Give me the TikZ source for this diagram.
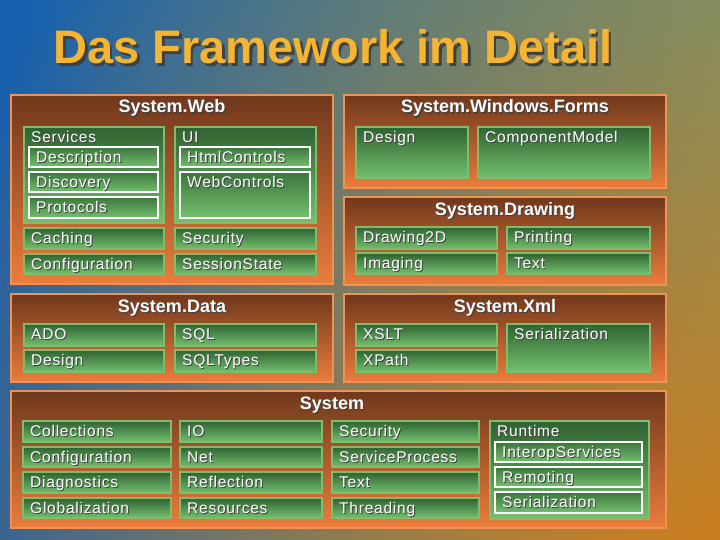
\documentclass[tikz,border=0pt]{standalone}
\usepackage{fontspec}
\setmainfont{Liberation Sans}
\usetikzlibrary{fadings}

\definecolor{bgblue}{RGB}{22,95,175}
\definecolor{bgteal}{RGB}{45,140,195}
\definecolor{bggreen}{RGB}{95,150,130}
\definecolor{bgorange}{RGB}{210,125,25}
\definecolor{brownTop}{RGB}{112,56,28}
\definecolor{brownBot}{RGB}{235,125,60}
\definecolor{brownLine}{RGB}{240,145,85}
\definecolor{greenTop}{RGB}{48,98,50}
\definecolor{greenBot}{RGB}{115,192,110}
\definecolor{greenLine}{RGB}{128,188,108}
\definecolor{titleYellow}{RGB}{245,180,50}

\tikzfading[name=radfade, inner color=transparent!0, outer color=transparent!100]

\newcommand\shd[2]{\makebox[0pt][l]{\kern#1\raisebox{-#1}{\textcolor{black!75}{#2}}}#2}
\newcommand\lblfont{\fontsize{15.5}{17}\selectfont\addfontfeature{LetterSpace=5}}

\newcommand\grpbox[6]{%
  \path[grp] (#1,#2) rectangle (#3,#4);
  \node[gtitle] at (#5,#2+18) {\shd{1.2pt}{#6}};}
\newcommand\gb[5]{%
  \path[gbx] (#1,#2) rectangle (#3,#4);
  \node[lbl] at (#1+7,#2+15.5) {\shd{1pt}{#5}};}
\newcommand\wb[5]{%
  \path[wbx] (#1,#2) rectangle (#3,#4);
  \node[lbl] at (#1+7,#2+15.5) {\shd{1pt}{#5}};}

\begin{document}
\begin{tikzpicture}[x=1pt,y=-1pt,
  grp/.style={draw=brownLine, line width=2pt, top color=brownTop, bottom color=brownBot},
  gbx/.style={draw=greenLine, line width=1.8pt, top color=greenTop, bottom color=greenBot},
  wbx/.style={draw=white, line width=1.5pt, top color=greenTop!80!greenBot, bottom color=greenBot},
  lbl/.style={anchor=base west, inner sep=0pt, text=white, font=\lblfont},
  gtitle/.style={anchor=base, inner sep=0pt, text=white, font=\bfseries\fontsize{18}{20}\selectfont},
]
\useasboundingbox (0,0) rectangle (720,540);
\begin{scope}
\clip (0,0) rectangle (720,540);
\fill[left color=bgblue, middle color=bgteal, right color=bggreen] (0,0) rectangle (720,540);
\fill[bgorange, path fading=radfade] (730,600) circle (900);
\end{scope}

\node[anchor=base, inner sep=0pt, text=titleYellow, font=\bfseries\fontsize{47}{52}\selectfont] (title) at (333,64) {\shd{2.5pt}{Das Framework im Detail}};

% System.Web
\grpbox{11}{95}{333}{284}{172}{System.Web}
\gb{24}{127}{164}{223}{Services}
\wb{29}{147}{158}{167}{Description}
\wb{29}{172}{158}{192}{Discovery}
\wb{29}{197}{158}{218}{Protocols}
\gb{175}{127}{316}{223}{UI}
\wb{180}{147}{310}{167}{HtmlControls}
\wb{180}{172}{310}{218}{WebControls}
\gb{24}{228}{164}{249}{Caching}
\gb{24}{254}{164}{274}{Configuration}
\gb{175}{228}{316}{249}{Security}
\gb{175}{254}{316}{274}{SessionState}

% System.Windows.Forms
\grpbox{344}{95}{666}{188}{505}{System.Windows.Forms}
\gb{356}{127}{468}{178}{Design}
\gb{478}{127}{650}{178}{ComponentModel}

% System.Drawing
\grpbox{344}{197}{666}{285}{505}{System.Drawing}
\gb{356}{227}{497}{249}{Drawing2D}
\gb{507}{227}{650}{249}{Printing}
\gb{356}{253}{497}{274}{Imaging}
\gb{507}{253}{650}{274}{Text}

% System.Data
\grpbox{11}{294}{333}{382}{172}{System.Data}
\gb{24}{324}{164}{346}{ADO}
\gb{175}{324}{316}{346}{SQL}
\gb{24}{350}{164}{372}{Design}
\gb{175}{350}{316}{372}{SQLTypes}

% System.Xml
\grpbox{344}{294}{666}{382}{505}{System.Xml}
\gb{356}{324}{497}{346}{XSLT}
\gb{356}{350}{497}{372}{XPath}
\gb{507}{324}{650}{372}{Serialization}

% System
\grpbox{11}{391}{666}{528}{332}{System}
\gb{23}{421}{171}{442}{Collections}
\gb{23}{447}{171}{467}{Configuration}
\gb{23}{472}{171}{493}{Diagnostics}
\gb{23}{498}{171}{518}{Globalization}
\gb{180}{421}{322}{442}{IO}
\gb{180}{447}{322}{467}{Net}
\gb{180}{472}{322}{493}{Reflection}
\gb{180}{498}{322}{518}{Resources}
\gb{332}{421}{479}{442}{Security}
\gb{332}{447}{479}{467}{ServiceProcess}
\gb{332}{472}{479}{493}{Text}
\gb{332}{498}{479}{518}{Threading}
\gb{490}{421}{649}{519}{Runtime}
\wb{495}{442}{642}{462}{InteropServices}
\wb{495}{467}{642}{487}{Remoting}
\wb{495}{492}{642}{513}{Serialization}
\end{tikzpicture}
\end{document}
